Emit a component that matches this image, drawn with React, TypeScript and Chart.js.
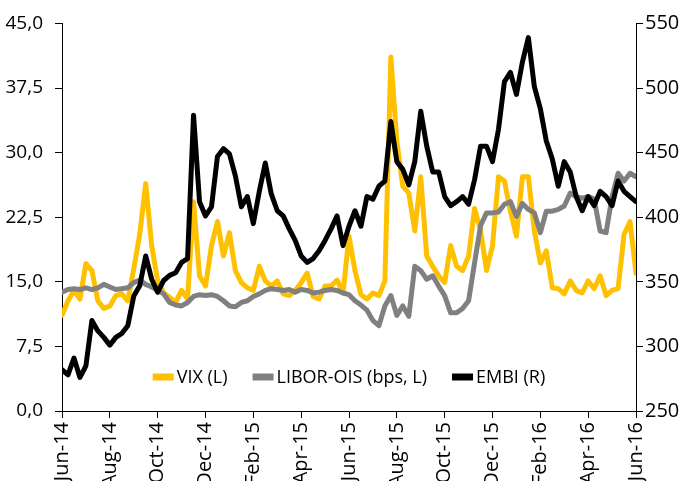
import { useEffect, useRef } from "react";
import { Chart, registerables } from "chart.js";

Chart.register(...registerables);

// x-axis tick labels, one every two months
const TICK_LABELS = [
  "Jun-14", "Aug-14", "Oct-14", "Dec-14", "Feb-15", "Apr-15", "Jun-15",
  "Aug-15", "Oct-15", "Dec-15", "Feb-16", "Apr-16", "Jun-16",
];

// samples are roughly weekly: one every quarter of a month from Jun-14
const MONTHS_PER_SAMPLE = 0.25;

// VIX (left axis)
const VIX = [
  11.1, 12.8, 14.0, 13.0, 17.1, 16.3, 12.8, 11.9, 12.2, 13.4,
  13.6, 12.8, 16.5, 20.5, 26.4, 19.2, 15.1, 13.7, 13.2, 12.6,
  14.0, 13.0, 24.3, 15.7, 14.5, 19.2, 22.0, 18.0, 20.7, 16.3,
  14.9, 14.3, 14.0, 16.8, 15.1, 14.5, 15.1, 13.6, 13.4, 14.0,
  14.9, 16.0, 13.3, 13.0, 14.5, 14.5, 15.2, 13.7, 20.3, 16.3,
  13.5, 13.0, 13.7, 13.4, 15.1, 41.1, 31.3, 26.1, 25.3, 20.9,
  27.2, 18.0, 16.8, 15.7, 14.9, 19.2, 16.8, 16.3, 18.0, 23.5,
  21.0, 16.3, 19.2, 27.2, 26.7, 23.2, 20.3, 27.2, 27.2, 20.9,
  17.2, 18.6, 14.3, 14.2, 13.6, 15.1, 14.0, 13.7, 15.1, 14.2,
  15.7, 13.4, 14.0, 14.2, 20.5, 22.0, 16.0,
];

// LIBOR-OIS spread, bps (left axis)
const LIBOR_OIS = [
  13.8, 14.1, 14.2, 14.1, 14.3, 14.1, 14.3, 14.7, 14.4, 14.1,
  14.2, 14.3, 14.9, 15.2, 14.7, 14.4, 14.0, 13.6, 12.6, 12.3,
  12.2, 12.6, 13.3, 13.5, 13.4, 13.5, 13.3, 12.8, 12.2, 12.1,
  12.6, 12.8, 13.3, 13.6, 14.0, 14.2, 14.1, 14.0, 14.1, 13.8,
  14.1, 14.0, 13.7, 13.8, 14.0, 14.1, 14.0, 13.7, 13.5, 12.8,
  12.3, 11.7, 10.5, 9.9, 12.2, 13.4, 11.1, 12.2, 11.0, 16.8,
  16.3, 15.3, 15.7, 14.5, 13.4, 11.4, 11.4, 11.9, 12.8, 17.2,
  21.5, 23.0, 23.0, 23.1, 24.0, 24.3, 22.6, 24.1, 23.4, 23.0,
  20.7, 23.2, 23.2, 23.4, 23.8, 25.3, 24.9, 24.7, 24.9, 24.6,
  20.9, 20.7, 24.9, 27.6, 26.7, 27.6, 27.2,
];

// EMBI spread (right axis)
const EMBI = [
  282, 278, 291, 276, 285, 320, 312, 307, 301, 307,
  310, 316, 339, 347, 370, 352, 342, 351, 355, 357,
  365, 368, 479, 412, 401, 408, 447, 453, 449, 432,
  408, 416, 395, 420, 442, 418, 405, 401, 391, 382,
  370, 365, 368, 374, 382, 391, 401, 378, 393, 405,
  393, 416, 414, 424, 428, 474, 443, 437, 425, 443,
  482, 455, 435, 435, 416, 409, 412, 416, 410, 429,
  455, 455, 443, 468, 505, 512, 495, 520, 539, 501,
  484, 459, 445, 424, 443, 435, 416, 405, 416, 409,
  420, 416, 409, 428, 420, 416, 412,
];

const toPoints = (values: number[]) =>
  values.map((v, i) => ({ x: i * MONTHS_PER_SAMPLE, y: v }));

const FONT = "'Open Sans', sans-serif";

const insideLegend = {
  id: "insideLegend",
  afterDatasetsDraw(chart: any) {
    const { ctx, chartArea } = chart;
    ctx.save();
    ctx.font = `18px ${FONT}`;
    const swatch = 21;
    const gap = 3;
    const spacing = 25;
    const items = chart.data.datasets.map((ds: any) => ({
      text: ds.label as string,
      color: ds.borderColor as string,
      w: swatch + gap + ctx.measureText(ds.label).width,
    }));
    const total =
      items.reduce((s: number, it: any) => s + it.w, 0) +
      spacing * (items.length - 1);
    let x = (chartArea.left + chartArea.right) / 2 - total / 2;
    const y = chartArea.bottom - 34;
    for (const it of items) {
      ctx.strokeStyle = it.color;
      ctx.lineWidth = 7;
      ctx.lineCap = "butt";
      ctx.beginPath();
      ctx.moveTo(x, y);
      ctx.lineTo(x + swatch, y);
      ctx.stroke();
      ctx.fillStyle = "#000";
      ctx.textBaseline = "middle";
      ctx.textAlign = "left";
      ctx.fillText(it.text, x + swatch + gap, y + 1);
      x += it.w + spacing;
    }
    ctx.restore();
  },
};

export default function App() {
  const ref = useRef<HTMLCanvasElement>(null);

  useEffect(() => {
    if (!ref.current) return;
    const lineStyle = {
      pointRadius: 0,
      borderWidth: 5,
      tension: 0,
      borderJoinStyle: "round" as const,
      borderCapStyle: "round" as const,
      fill: false,
    };
    const chart = new Chart(ref.current, {
      type: "line",
      data: {
        datasets: [
          {
            ...lineStyle,
            label: "VIX (L)",
            data: toPoints(VIX),
            borderColor: "#FFC000",
            backgroundColor: "#FFC000",
            yAxisID: "yL",
            order: 3,
          },
          {
            ...lineStyle,
            label: "LIBOR-OIS (bps, L)",
            data: toPoints(LIBOR_OIS),
            borderColor: "#808080",
            backgroundColor: "#808080",
            yAxisID: "yL",
            order: 2,
          },
          {
            ...lineStyle,
            label: "EMBI (R)",
            data: toPoints(EMBI),
            borderColor: "#000000",
            backgroundColor: "#000000",
            yAxisID: "yR",
            order: 1,
          },
        ],
      },
      options: {
        responsive: false,
        animation: false,
        layout: { padding: { top: 21, left: 0, right: 0, bottom: 0 } },
        plugins: {
          legend: { display: false },
          tooltip: { enabled: false },
        },
        scales: {
          x: {
            type: "linear",
            min: 0,
            max: 24,
            afterFit: (s: any) => {
              s.height = 70;
            },
            ticks: {
              stepSize: 2,
              autoSkip: false,
              minRotation: 90,
              maxRotation: 90,
              padding: 4,
              color: "#000",
              font: { family: FONT, size: 20 },
              callback: (v: any) => TICK_LABELS[Math.round(Number(v) / 2)] ?? "",
            },
            grid: {
              display: true,
              drawOnChartArea: false,
              tickLength: 7,
              color: "#000",
            },
            border: { display: true, color: "#000", width: 1 },
          },
          yL: {
            type: "linear",
            position: "left",
            min: 0,
            max: 45,
            afterFit: (s: any) => {
              s.width = 62;
            },
            ticks: {
              stepSize: 7.5,
              padding: 12,
              color: "#000",
              font: { family: FONT, size: 19 },
              callback: (v: any) => Number(v).toFixed(1).replace(".", ","),
            },
            grid: {
              display: true,
              drawOnChartArea: false,
              tickLength: 7,
              color: "#000",
            },
            border: { display: true, color: "#000", width: 1 },
          },
          yR: {
            type: "linear",
            position: "right",
            min: 250,
            max: 550,
            afterFit: (s: any) => {
              s.width = 52;
            },
            ticks: {
              stepSize: 50,
              padding: 2,
              color: "#000",
              font: { family: FONT, size: 20 },
            },
            grid: {
              display: true,
              drawOnChartArea: false,
              tickLength: 7,
              color: "#000",
            },
            border: { display: true, color: "#000", width: 1 },
          },
        },
      },
      plugins: [insideLegend],
    });
    return () => chart.destroy();
  }, []);

  return (
    <div style={{ position: "fixed", left: 0, top: 0, width: 688, height: 481, background: "#fff" }}>
      <canvas ref={ref} width={688} height={481} style={{ display: "block" }} />
    </div>
  );
}
